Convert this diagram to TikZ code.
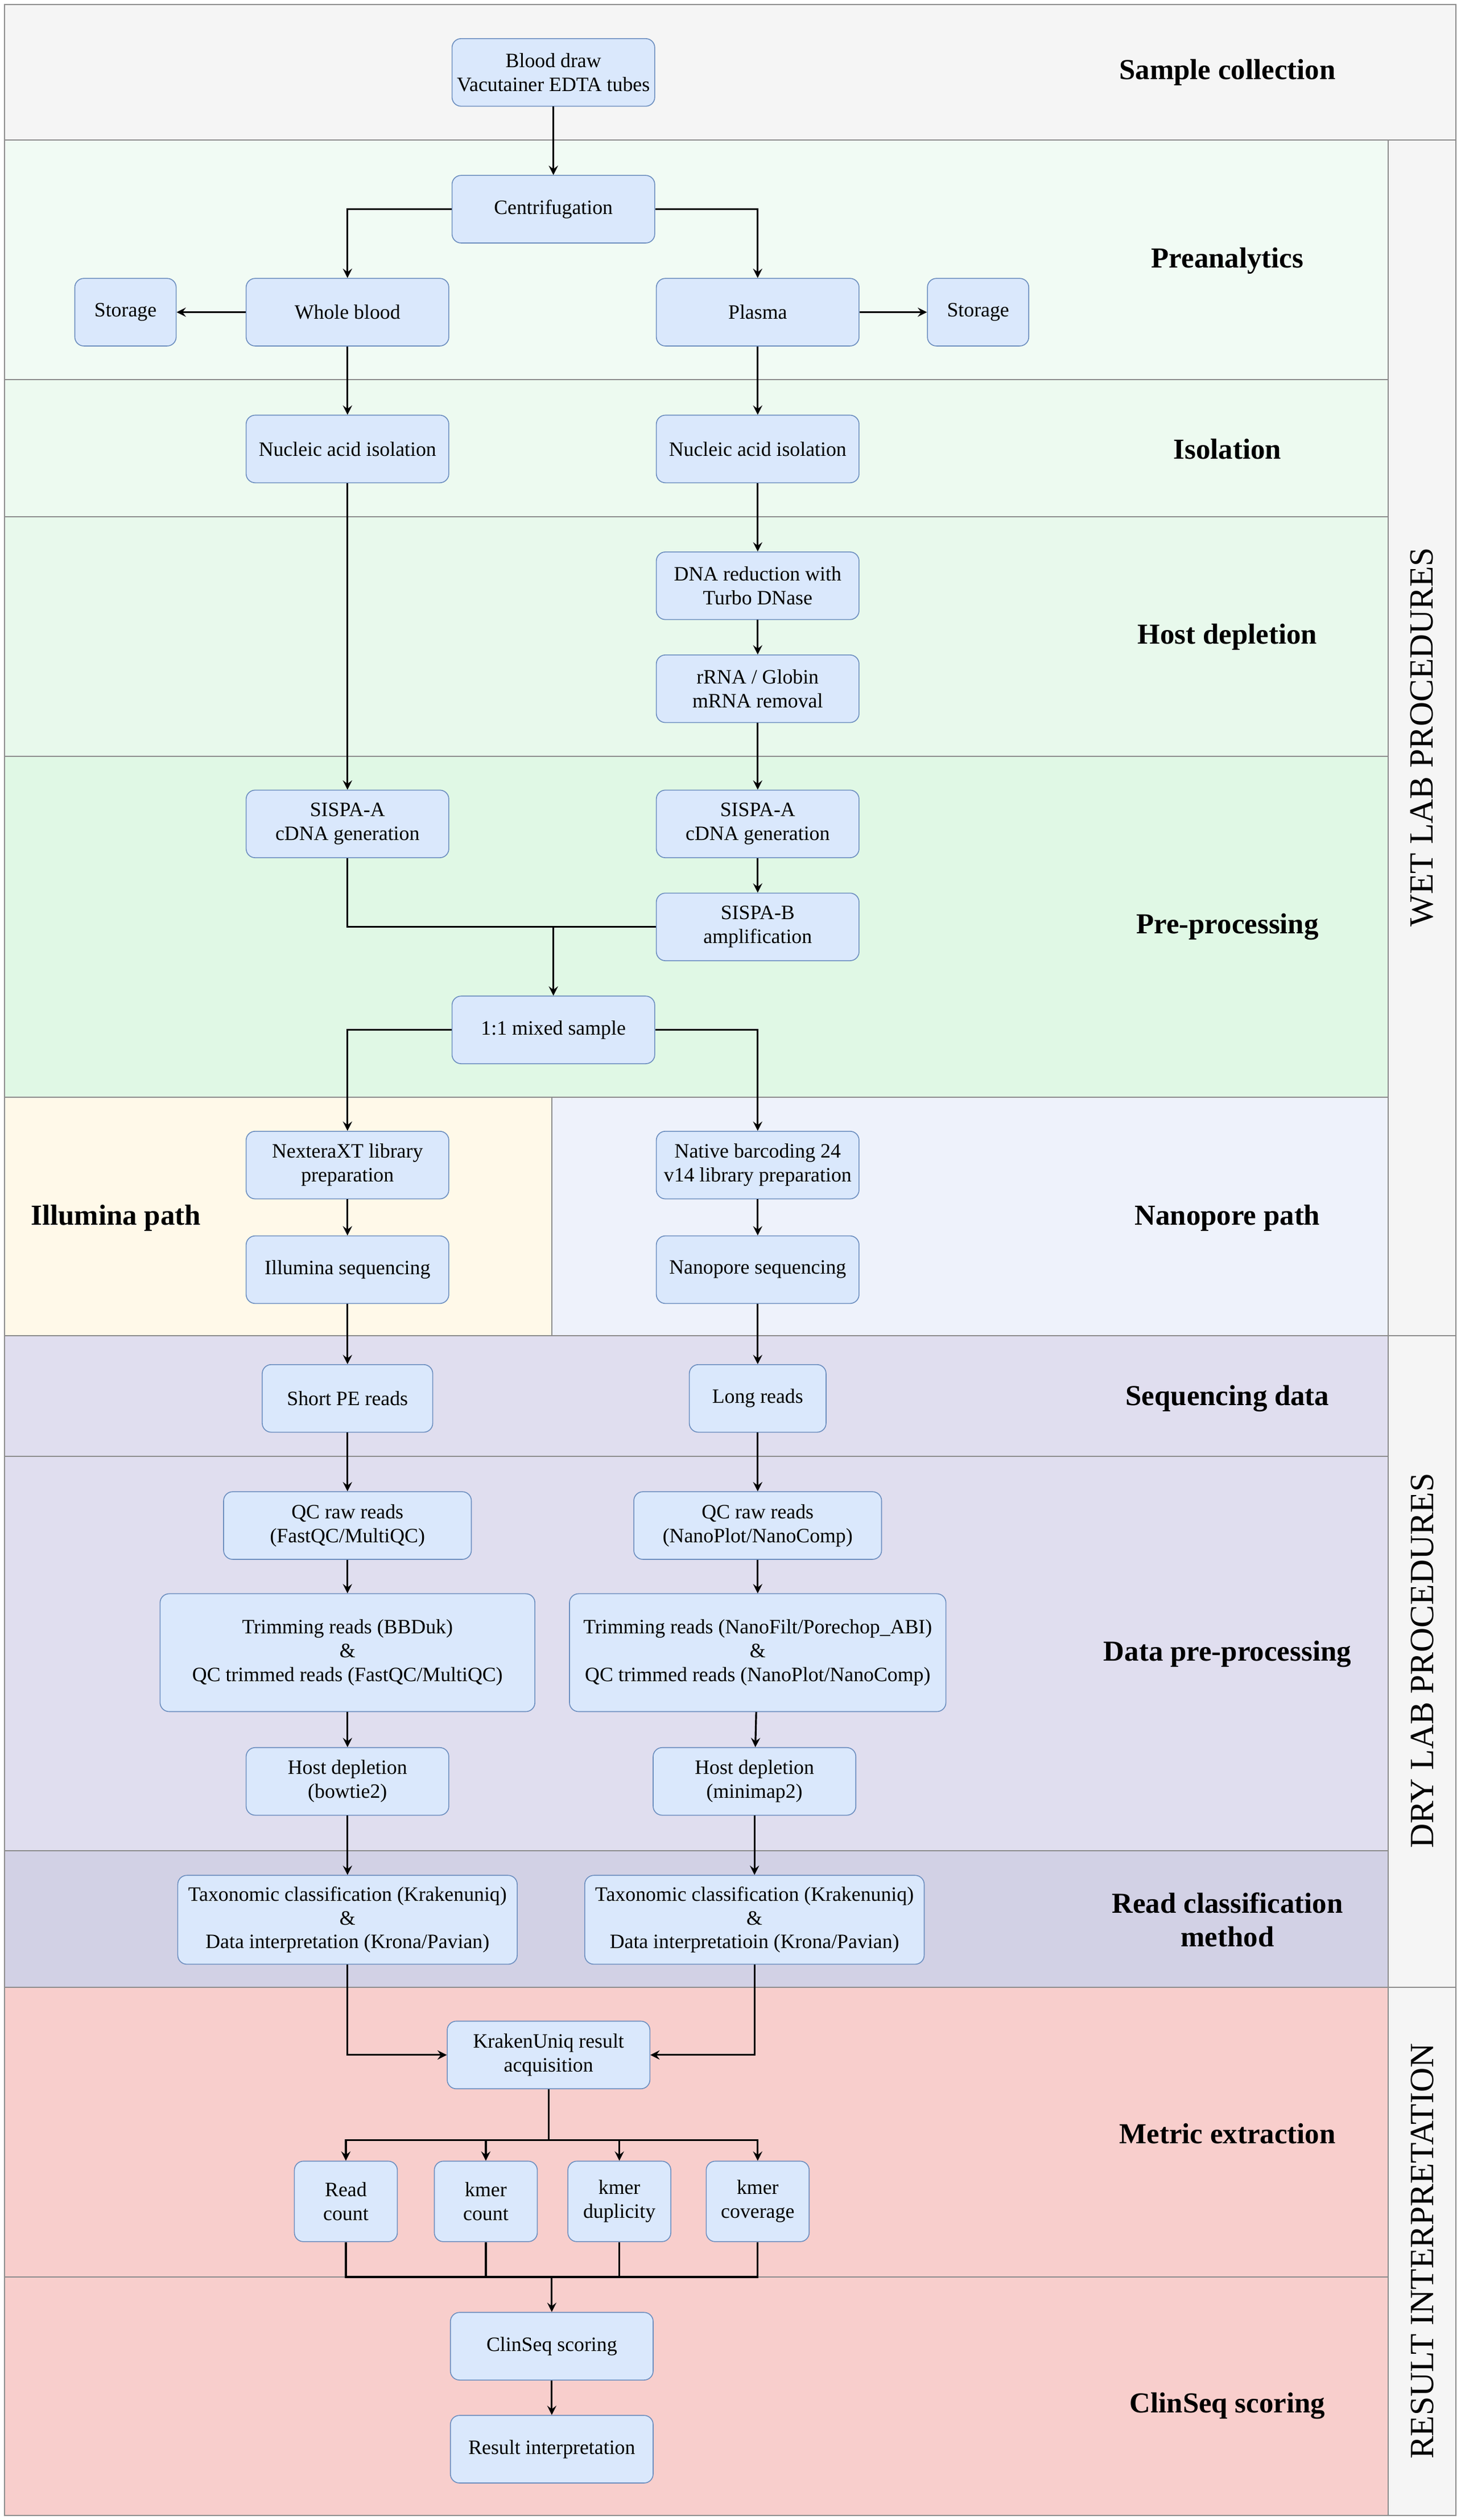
\documentclass[tikz,border=0pt]{standalone}
\usepackage{fontspec}
\setmainfont{Liberation Serif}
\usetikzlibrary{positioning}
\definecolor{boxfill}{HTML}{DAE8FC}
\definecolor{boxline}{HTML}{6C8EBF}
\definecolor{bandgray}{HTML}{F5F5F5}
\definecolor{preana}{HTML}{F1FBF4}
\definecolor{isol}{HTML}{EDFAF0}
\definecolor{hostdep}{HTML}{E8F9EC}
\definecolor{preproc}{HTML}{E0F8E5}
\definecolor{illum}{HTML}{FFF9E9}
\definecolor{nanop}{HTML}{EEF2FB}
\definecolor{seqdata}{HTML}{E0DEEF}
\definecolor{readcls}{HTML}{D2D1E5}
\definecolor{result}{HTML}{F8CECC}
\tikzset{
  box/.style={draw=boxline, fill=boxfill, rounded corners=4pt, align=center,
    font=\fontsize{9}{10.5}\selectfont, inner sep=1pt,
    minimum width=#1*0.025cm, minimum height=1.05cm},
  box/.default=126,
  band/.style={draw=black!45, line width=0.5pt},
  title/.style={font=\bfseries\fontsize{12.8}{15}\selectfont, align=center},
  vtitle/.style={font=\fontsize{15}{17}\selectfont, rotate=90},
  arrow/.style={->, >=stealth, thick},
  line/.style={thick}
}
\begin{document}
\begin{tikzpicture}[x=0.025cm, y=-0.025cm]
  \useasboundingbox (0,0) rectangle (908,1566);
  % Bands
  \path[band, fill=bandgray] (3,3) rectangle (905,87);
  \path[band, fill=bandgray] (863,87) rectangle (905,830);
  \path[band, fill=bandgray] (863,830) rectangle (905,1235);
  \path[band, fill=bandgray] (863,1235) rectangle (905,1563);
  \path[band, fill=preana] (3,87) rectangle (863,236);
  \path[band, fill=isol] (3,236) rectangle (863,321);
  \path[band, fill=hostdep] (3,321) rectangle (863,470);
  \path[band, fill=preproc] (3,470) rectangle (863,682);
  \path[band, fill=illum] (3,682) rectangle (343,830);
  \path[band, fill=nanop] (343,682) rectangle (863,830);
  \path[band, fill=seqdata] (3,830) rectangle (863,905);
  \path[band, fill=seqdata] (3,905) rectangle (863,1150);
  \path[band, fill=readcls] (3,1150) rectangle (863,1235);
  \path[band, fill=result] (3,1235) rectangle (863,1415);
  \path[band, fill=result] (3,1415) rectangle (863,1563);

  % Titles
  \node[title] (tSample) at (763,45) {Sample collection};
  \node[title] (tPre) at (763,162) {Preanalytics};
  \node[title] (tIso) at (763,279) {Isolation};
  \node[title] (tHost) at (763,396) {Host depletion};
  \node[title] (tProc) at (763,576) {Pre-processing};
  \node[title] (tIll) at (72,757) {Illumina path};
  \node[title] (tNano) at (763,757) {Nanopore path};
  \node[title] (tSeq) at (763,869) {Sequencing data};
  \node[title] (tData) at (763,1028) {Data pre-processing};
  \node[title] (tRead) at (763,1193) {Read classification\\method};
  \node[title] (tMetric) at (763,1326) {Metric extraction};
  \node[title] (tClin) at (763,1495) {ClinSeq scoring};
  \node[vtitle] (vWet) at (884,458) {WET LAB PROCEDURES};
  \node[vtitle] (vDry) at (884,1032) {DRY LAB PROCEDURES};
  \node[vtitle] (vRes) at (884,1399) {RESULT INTERPRETATION};

  % Wet lab
  \node[box] (blood) at (344,45) {Blood draw\\Vacutainer EDTA tubes};
  \node[box] (centri) at (344,130) {Centrifugation};
  \node[box] (whole) at (216,194) {Whole blood};
  \node[box] (plasma) at (471,194) {Plasma};
  \node[box=63] (storL) at (78,194) {Storage};
  \node[box=63] (storR) at (608,194) {Storage};
  \node[box] (isoL) at (216,279) {Nucleic acid isolation};
  \node[box] (isoR) at (471,279) {Nucleic acid isolation};
  \node[box] (dnase) at (471,364) {DNA reduction with\\Turbo DNase};
  \node[box] (rrna) at (471,428) {rRNA / Globin\\mRNA removal};
  \node[box] (sispaL) at (216,512) {SISPA-A\\cDNA generation};
  \node[box] (sispaR) at (471,512) {SISPA-A\\cDNA generation};
  \node[box] (sispaB) at (471,576) {SISPA-B\\amplification};
  \node[box] (mixed) at (344,640) {1:1 mixed sample};
  \node[box] (nextera) at (216,724) {NexteraXT library\\preparation};
  \node[box] (illseq) at (216,789) {Illumina sequencing};
  \node[box] (native) at (471,724) {Native barcoding 24\\v14 library preparation};
  \node[box] (nanoseq) at (471,789) {Nanopore sequencing};

  % Dry lab
  \node[box=106] (short) at (216,869) {Short PE reads};
  \node[box=85] (long) at (471,869) {Long reads};
  \node[box=154] (qcL) at (216,948) {QC raw reads\\(FastQC/MultiQC)};
  \node[box=154] (qcR) at (471,948) {QC raw reads\\(NanoPlot/NanoComp)};
  \node[box=233, minimum height=1.83cm] (trimL) at (216,1027) {Trimming reads (BBDuk)\\\&\\QC trimmed reads (FastQC/MultiQC)};
  \node[box=234, minimum height=1.83cm] (trimR) at (471,1027) {Trimming reads (NanoFilt/Porechop\_ABI)\\\&\\QC trimmed reads (NanoPlot/NanoComp)};
  \node[box] (hostL) at (216,1107) {Host depletion\\(bowtie2)};
  \node[box] (hostR) at (469,1107) {Host depletion\\(minimap2)};
  \node[box=211, minimum height=1.38cm] (taxL) at (216,1193) {Taxonomic classification (Krakenuniq)\\\&\\Data interpretation (Krona/Pavian)};
  \node[box=211, minimum height=1.38cm] (taxR) at (469,1193) {Taxonomic classification (Krakenuniq)\\\&\\Data interpretatioin (Krona/Pavian)};

  % Result interpretation
  \node[box] (kraken) at (341,1277) {KrakenUniq result\\acquisition};
  \node[box=64, minimum height=1.25cm] (mRead) at (215,1368) {Read\\count};
  \node[box=64, minimum height=1.25cm] (mKcount) at (302,1368) {kmer\\count};
  \node[box=64, minimum height=1.25cm] (mKdup) at (385,1368) {kmer\\duplicity};
  \node[box=64, minimum height=1.25cm] (mKcov) at (471,1368) {kmer\\coverage};
  \node[box] (clin) at (343,1458) {ClinSeq scoring};
  \node[box] (interp) at (343,1522) {Result interpretation};

  \coordinate (joinB) at (344,576);
  \coordinate (busM) at (341,1330);
  \coordinate (joinM) at (343,1415);

  % Connections
  \foreach \source/\dest in {blood/centri, whole/storL, plasma/storR, whole/isoL, plasma/isoR,
      isoL/sispaL, isoR/dnase, dnase/rrna, rrna/sispaR, sispaR/sispaB, joinB/mixed,
      nextera/illseq, native/nanoseq, illseq/short, nanoseq/long, short/qcL, long/qcR,
      qcL/trimL, qcR/trimR, trimL/hostL, trimR/hostR, hostL/taxL, hostR/taxR,
      joinM/clin, clin/interp}
    \draw[arrow] (\source) -- (\dest);
  \foreach \source/\dest in {centri/whole, centri/plasma, mixed/nextera, mixed/native}
    \draw[arrow] (\source) -| (\dest);
  \foreach \source/\dest in {taxL/kraken, taxR/kraken}
    \draw[arrow] (\source) |- (\dest);
  \draw[line] (sispaL) |- (sispaB);
  \draw[line] (kraken) -- (busM);
  \foreach \dest in {mRead, mKcount, mKdup, mKcov}
    \draw[arrow] (busM) -| (\dest);
  \foreach \source in {mRead, mKcount, mKdup, mKcov}
    \draw[line] (\source) |- (joinM);
\end{tikzpicture}
\end{document}
